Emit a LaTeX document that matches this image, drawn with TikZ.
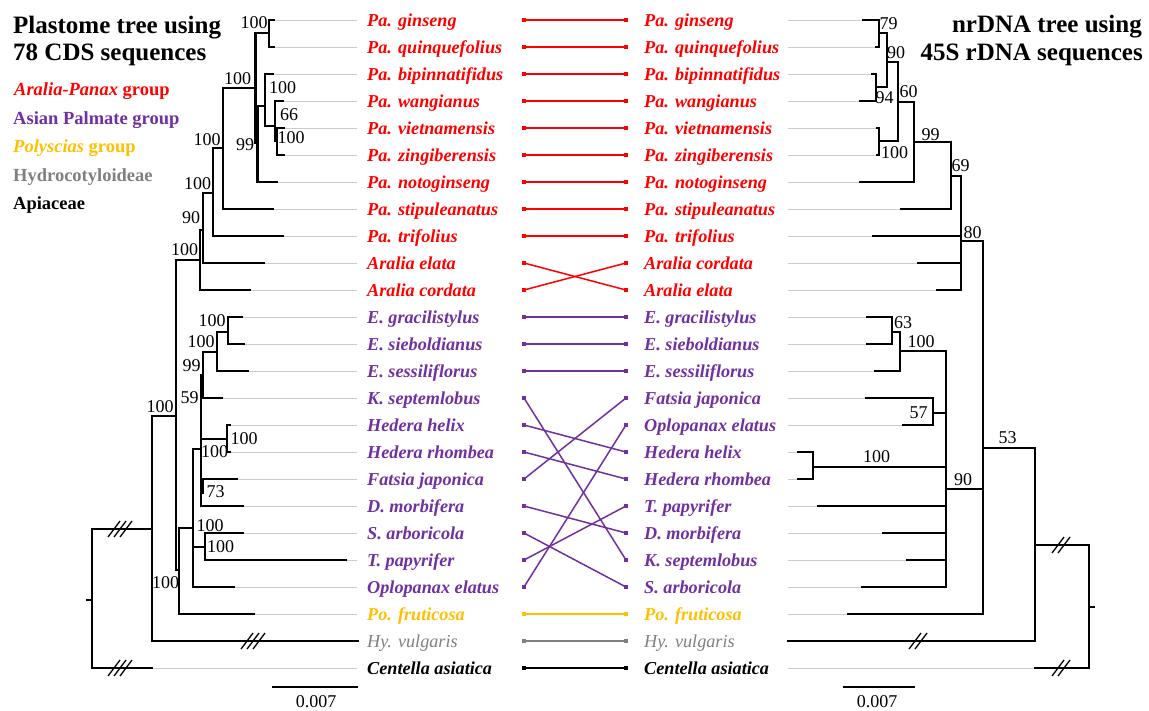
\documentclass[tikz,border=0pt]{standalone}
\usepackage{fontspec}
\setmainfont{Liberation Serif}
\definecolor{apred}{HTML}{FF0000}
\definecolor{appurple}{HTML}{7030A0}
\definecolor{apgold}{HTML}{FFC000}
\definecolor{apgrey}{HTML}{808080}
\definecolor{leader}{HTML}{CCCCCC}
\tikzset{
  branch/.style={line width=2.4pt, line cap=rect},
  leaderline/.style={draw=leader, line width=1pt},
  taxon/.style={anchor=base west, inner sep=0pt, font=\fontsize{18.2}{20}\selectfont\bfseries\itshape},
  bs/.style={inner sep=0pt, font=\fontsize{18}{20}\selectfont},
  headline/.style={anchor=base west, inner sep=0pt, font=\fontsize{25}{28}\selectfont\bfseries},
  legendtext/.style={anchor=base west, inner sep=0pt, font=\fontsize{18.5}{20}\selectfont\bfseries},
  conn/.style={line width=1.5pt},
  brkthree/.pic={\foreach \k in {-6,0,6} \draw[line width=1.3pt] (\k-6,8) -- (\k+6,-8);},
  brktwo/.pic={\foreach \k in {-3,3} \draw[line width=1.3pt] (\k-6,8) -- (\k+6,-8);}
}
\begin{document}
\begin{tikzpicture}[x=1pt,y=-1pt]
\useasboundingbox (0,0) rectangle (1149,710);
\fill[white] (0,0) rectangle (1149,710);

% headings and group legend
\node[headline] (hl1) at (13,33) {Plastome tree using};
\node[headline] (hl2) at (13,60) {78 CDS sequences};
\node[headline, anchor=base east] (hr1) at (1142,32) {nrDNA tree using};
\node[headline, anchor=base east] (hr2) at (1143,60) {45S rDNA sequences};
\node[legendtext, text=apred] (lg1) at (14,95) {\textit{Aralia-Panax} group};
\node[legendtext, text=appurple] (lg2) at (13,124) {Asian Palmate group};
\node[legendtext, text=apgold] (lg3) at (13,152) {\textit{Polyscias} group};
\node[legendtext, text=apgrey] (lg4) at (13,181) {Hydrocotyloideae};
\node[legendtext] (lg5) at (13,209) {Apiaceae};

% leader lines from the tips to the names
\foreach \i/\x in {0/274,1/274,2/273,3/283,4/284,5/284,6/277,7/273,8/283,9/264,10/250,
  11/242,12/244,13/248,14/222,15/230,16/230,17/237,18/243,19/243,20/346,21/234,22/254,24/152}
  \draw[leaderline] (\x,{20+27*\i}) -- (357,{20+27*\i});
\foreach \i/\x in {0/863,1/876,2/872,3/860,4/877,5/877,6/860,7/901,8/873,9/918,10/937,
  11/867,12/867,13/875,14/866,15/903,16/798,17/798,18/818,19/883,20/907,21/862,22/848,24/1035}
  \draw[leaderline] (788,{20+27*\i}) -- (\x,{20+27*\i});

% plastome tree
\foreach \a/\b/\c/\d in {269/20/274/20, 269/47/274/47, 269/20/269/47, 255.5/33/269/33,
  265/74/273/74, 275/101/283/101, 277/128/284/128, 277/155/284/155, 277/128/277/155,
  275/141/277/141, 275/101/275/141, 265/126/275/126, 265/74/265/126, 257.5/106/265/106,
  257.5/182/277/182, 257.5/106/257.5/182, 255.5/143/257.5/143, 255.5/33/255.5/143, 223/88/255.5/88,
  223/209/273/209, 223/88/223/209, 213/148/223/148,
  213/236/283/236, 213/148/213/236, 203/193/213/193,
  203/263/264/263, 203/193/203/263, 200/230/203/230,
  200/290/250/290, 200/230/200/290, 176/260/200/260,
  176/260/176/570, 176/570/179/570,
  179/614/254/614, 179/528/179/614, 179/528/193/528,
  193/449/193/587, 193/587/234/587, 193/449/201/449, 193/547/205/547,
  205/533/243/533, 205/560/346/560, 205/533/205/560,
  203/352/203/398, 201/375/201/506, 201/398/222/398, 201/439/227/439, 227/425/227/452,
  227/425/230/425, 227/452/230/452, 201/479/237/479, 203/479/203/493, 201/506/243/506,
  228/317/242/317, 228/344/244/344, 228/317/228/344, 217/332/228/332, 217/371/248/371,
  217/332/217/371, 203/352/217/352,
  152/416/176/416, 152/416/152/641, 152/641/358/641,
  92/529/152/529, 92/529/92/668, 92/668/152/668, 87/600/92/600}
  \draw[branch] (\a,\b) -- (\c,\d);
\pic at (253,641) {brkthree};
\pic at (120,529) {brkthree};
\pic at (120,668) {brkthree};

% nrDNA tree
\foreach \a/\b/\c/\d in {863/20/879/20, 876/47/879/47, 879/20/879/47, 879/33/887/33,
  872/74/876/74, 860/101/876/101, 876/74/876/101, 876/87/887/87,
  887/33/887/87, 887/62/898/62,
  877/128/879/128, 877/155/879/155, 879/128/879/155, 879/141/898/141,
  898/62/898/141, 898/102/914/102,
  860/182/914/182, 914/102/914/182, 914/142/951/142,
  901/209/951/209, 951/142/951/209, 951/176/961/176,
  873/236/961/236, 918/263/961/263, 937/290/961/290, 961/176/961/290, 961/241/983/241,
  983/241/983/614, 848/614/983/614,
  867/317/892/317, 867/344/892/344, 892/317/892/344, 892/332/900/332,
  875/371/900/371, 900/332/900/371, 900/351/946/351,
  866/398/933/398, 903/425/933/425, 933/398/933/425, 933/413/946/413,
  798/452/813/452, 798/479/813/479, 813/452/813/479, 813/467/946/467,
  818/506/946/506, 883/533/946/533, 907/560/946/560, 862/587/946/587,
  946/351/946/587, 946/489/983/489,
  983/448/1035/448, 1035/448/1035/641, 788/641/1035/641,
  1035/545/1089/545, 1089/545/1089/668, 1035/668/1089/668, 1089/607/1094/607}
  \draw[branch] (\a,\b) -- (\c,\d);
\pic at (918,641) {brktwo};
\pic at (1061,545) {brktwo};
\pic at (1061,668) {brktwo};

% support values
\foreach \x/\y/\v in {254/23/100, 237.5/79/100, 282.5/88/100, 289/115/66, 291/138/100,
  245/145/99, 207/140/100, 197.5/184/100, 191/218/90, 184.5/250/100, 160/407/100,
  212/321/100, 201/342/100, 191.5/366/99, 189.5/398/59, 244/439/100, 214.5/452/100,
  215.5/492/73, 210/526/100, 220.5/547/100, 165.5/583/100,
  888.5/24/79, 896/53/90, 884.5/98/94, 908.5/92/60, 894.5/153/100, 930.5/135/99,
  960.5/166/69, 972.5/233/80, 903/323/63, 921/342/100, 918.5/413/57, 1007.5/438/53,
  876.5/457/100, 963/480/90}
  \node[bs] at (\x,\y) {\v};

% scale bars
\draw[branch, line cap=butt] (272,687) -- (358,687);
\node[bs] (sbl) at (316,702) {0.007};
\draw[branch, line cap=butt] (843,687) -- (915,687);
\node[bs] (sbr) at (877,702) {0.007};

% taxon names, plastome order
\foreach \i/\n/\c in {0/Pa. ginseng/apred, 1/Pa. quinquefolius/apred, 2/Pa. bipinnatifidus/apred,
  3/Pa. wangianus/apred, 4/Pa. vietnamensis/apred, 5/Pa. zingiberensis/apred,
  6/Pa. notoginseng/apred, 7/Pa. stipuleanatus/apred, 8/Pa. trifolius/apred,
  9/Aralia elata/apred, 10/Aralia cordata/apred,
  11/E. gracilistylus/appurple, 12/E. sieboldianus/appurple, 13/E. sessiliflorus/appurple,
  14/K. septemlobus/appurple, 15/Hedera helix/appurple, 16/Hedera rhombea/appurple,
  17/Fatsia japonica/appurple, 18/D. morbifera/appurple, 19/S. arboricola/appurple,
  20/T. papyrifer/appurple, 21/Oplopanax elatus/appurple, 22/Po. fruticosa/apgold,
  24/Centella asiatica/black}
  \node[taxon, text=\c] (lt\i) at (367,{26+27*\i}) {\n};
\node[taxon, text=apgrey, font=\fontsize{18.2}{20}\selectfont\itshape] (lt23) at (367,{26+27*23}) {Hy. vulgaris};

% taxon names, nrDNA order
\foreach \i/\n/\c in {0/Pa. ginseng/apred, 1/Pa. quinquefolius/apred, 2/Pa. bipinnatifidus/apred,
  3/Pa. wangianus/apred, 4/Pa. vietnamensis/apred, 5/Pa. zingiberensis/apred,
  6/Pa. notoginseng/apred, 7/Pa. stipuleanatus/apred, 8/Pa. trifolius/apred,
  9/Aralia cordata/apred, 10/Aralia elata/apred,
  11/E. gracilistylus/appurple, 12/E. sieboldianus/appurple, 13/E. sessiliflorus/appurple,
  14/Fatsia japonica/appurple, 15/Oplopanax elatus/appurple, 16/Hedera helix/appurple,
  17/Hedera rhombea/appurple, 18/T. papyrifer/appurple, 19/D. morbifera/appurple,
  20/K. septemlobus/appurple, 21/S. arboricola/appurple, 22/Po. fruticosa/apgold,
  24/Centella asiatica/black}
  \node[taxon, text=\c] (rt\i) at (644,{26+27*\i}) {\n};
\node[taxon, text=apgrey, font=\fontsize{18.2}{20}\selectfont\itshape] (rt23) at (644,{26+27*23}) {Hy. vulgaris};

% links between the two placements of each taxon
\foreach \i in {0,...,24} {
  \coordinate (L\i) at (524,{20+27*\i});
  \coordinate (R\i) at (626,{20+27*\i});
}
\foreach \a/\b/\c in {0/0/apred, 1/1/apred, 2/2/apred, 3/3/apred, 4/4/apred, 5/5/apred,
  6/6/apred, 7/7/apred, 8/8/apred, 9/10/apred, 10/9/apred,
  11/11/appurple, 12/12/appurple, 13/13/appurple, 14/20/appurple, 15/16/appurple,
  16/17/appurple, 17/14/appurple, 18/19/appurple, 19/21/appurple, 20/18/appurple,
  21/15/appurple, 22/22/apgold, 23/23/apgrey, 24/24/black} {
  \draw[conn, draw=\c] (L\a) -- (R\b);
  \fill[\c] (L\a) +(-1.8,-1.8) rectangle +(1.8,1.8);
  \fill[\c] (R\b) +(-1.8,-1.8) rectangle +(1.8,1.8);
}
\end{tikzpicture}
\end{document}
